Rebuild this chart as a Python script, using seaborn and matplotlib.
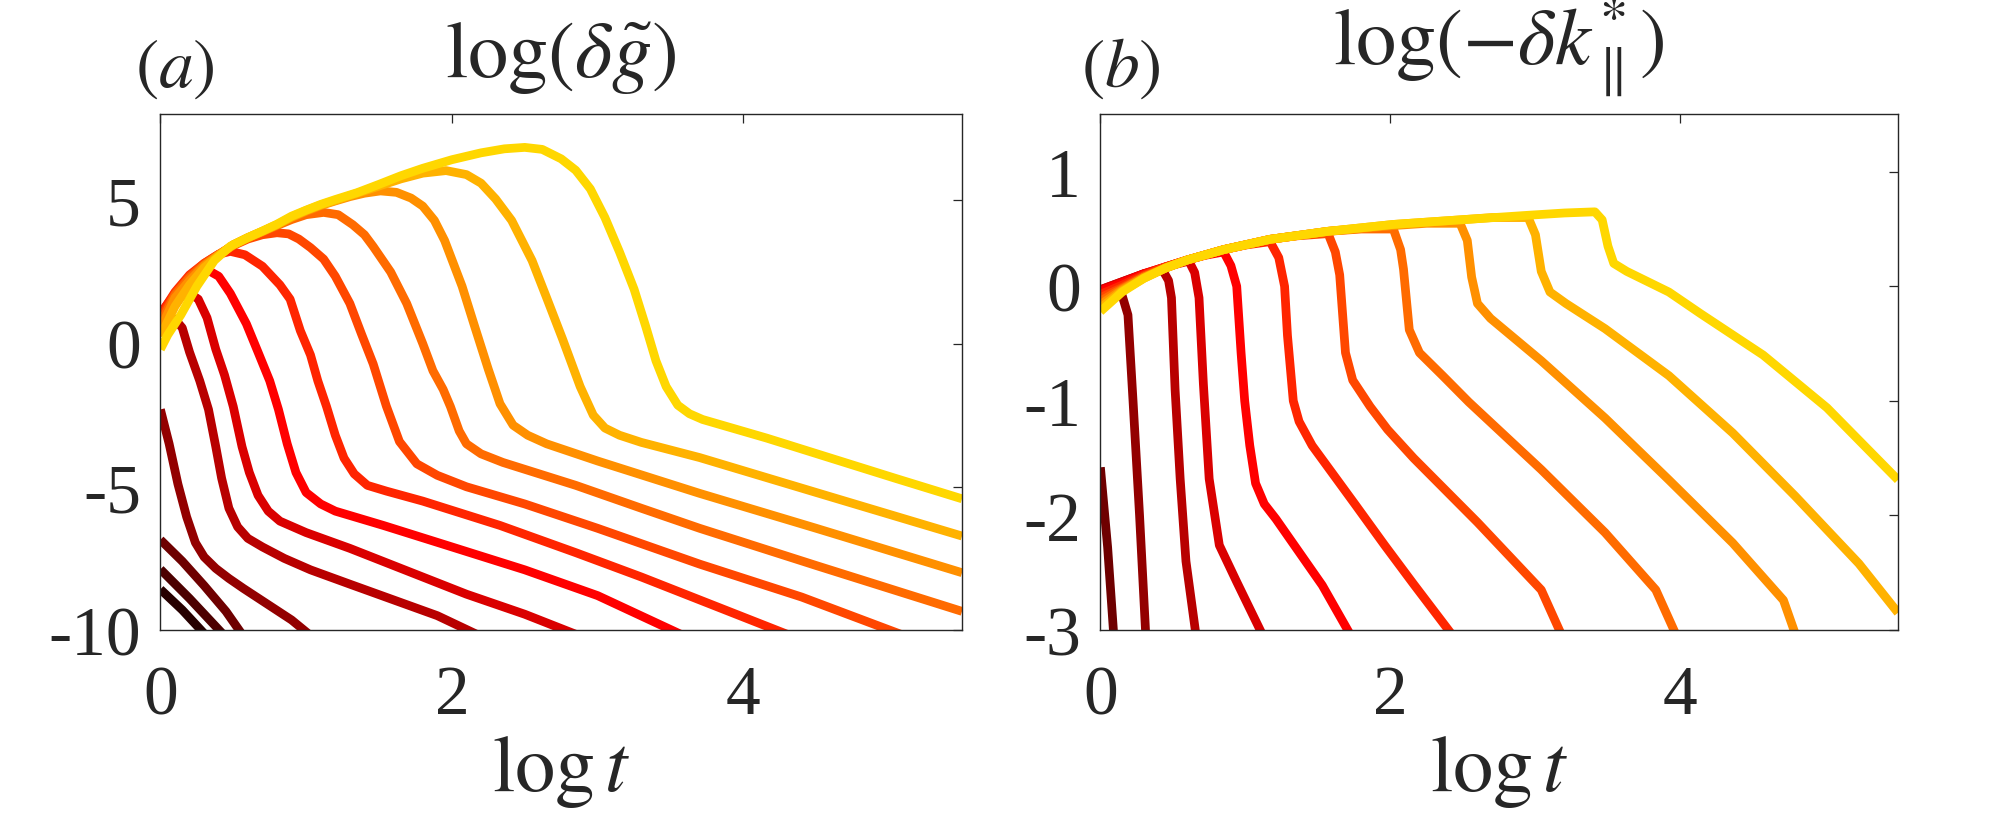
import numpy as np
import pandas as pd
import seaborn as sns
import matplotlib.pyplot as plt

# panel (a): log(delta g~) against log t, one list of (log t, value) per curve
dg_1 = [(0.0, -8.58), (0.15, -9.3), (0.305, -10.15)]
dg_2 = [(0.0, -7.88), (0.2, -8.9), (0.43, -10.15)]
dg_3 = [(0.0, -6.85), (0.15, -7.6), (0.3, -8.45), (0.45, -9.35), (0.56, -10.15)]
dg_4 = [(0.0, -2.3), (0.06, -3.5), (0.12, -4.9), (0.18, -6.05), (0.24, -6.95), (0.3, -7.45),
        (0.38, -7.85), (0.47, -8.2), (0.57, -8.55), (0.75, -9.15), (0.9, -9.65), (1.02, -10.15)]
dg_5 = [(0.0, 0.45), (0.05, 0.75), (0.1, 0.85), (0.15, 0.55), (0.2, -0.3), (0.27, -1.3),
        (0.33, -2.3), (0.38, -3.6), (0.42, -4.7), (0.47, -5.75), (0.53, -6.4), (0.6, -6.8),
        (0.7, -7.1), (0.85, -7.5), (1.03, -7.9), (1.3, -8.4), (1.6, -8.95), (1.9, -9.5),
        (2.17, -10.15)]
dg_6 = [(0.0, 0.75), (0.06, 1.3), (0.12, 1.62), (0.2, 1.76), (0.26, 1.55), (0.32, 0.9),
        (0.38, -0.2), (0.44, -1.1), (0.5, -2.2), (0.56, -3.6), (0.61, -4.5), (0.67, -5.3),
        (0.74, -5.85), (0.82, -6.2), (1.0, -6.6), (1.3, -7.15), (1.7, -7.95), (2.1, -8.75),
        (2.5, -9.45), (2.85, -10.15)]
dg_7 = [(0.0, 1.05), (0.08, 1.6), (0.16, 2.1), (0.25, 2.45), (0.32, 2.58), (0.4, 2.35),
        (0.48, 1.75), (0.59, 0.69), (0.67, -0.3), (0.75, -1.3), (0.81, -2.3), (0.87, -3.5),
        (0.93, -4.5), (1.0, -5.2), (1.1, -5.6), (1.2, -5.85), (1.53, -6.35), (2.0, -7.1),
        (2.5, -7.9), (3.0, -8.8), (3.57, -10.15)]
dg_8 = [(0.0, 1.0), (0.1, 1.8), (0.2, 2.4), (0.3, 2.8), (0.4, 3.12), (0.48, 3.22), (0.58, 3.1),
        (0.7, 2.7), (0.82, 2.05), (0.89, 1.55), (0.96, 0.45), (1.03, -0.4), (1.08, -1.3),
        (1.14, -2.2), (1.2, -3.2), (1.26, -4.0), (1.33, -4.55), (1.42, -4.95), (1.55, -5.15),
        (1.8, -5.5), (2.33, -6.35), (2.85, -7.3), (3.3, -8.15), (3.7, -8.95), (4.3, -10.15)]
dg_9 = [(0.0, 0.85), (0.1, 1.75), (0.2, 2.35), (0.3, 2.8), (0.4, 3.12), (0.5, 3.42), (0.6, 3.65),
        (0.7, 3.8), (0.8, 3.87), (0.88, 3.83), (0.95, 3.65), (1.03, 3.35), (1.12, 2.95),
        (1.2, 2.35), (1.3, 1.4), (1.38, 0.33), (1.46, -0.71), (1.55, -2.18), (1.64, -3.42),
        (1.76, -4.2), (1.9, -4.6), (2.1, -5.0), (2.5, -5.6), (3.0, -6.45), (3.7, -7.7),
        (4.4, -8.85), (5.08, -10.15)]
dg_10 = [(0.0, 0.7), (0.1, 1.7), (0.2, 2.3), (0.3, 2.75), (0.4, 3.1), (0.5, 3.44), (0.6, 3.68),
         (0.7, 3.9), (0.8, 4.12), (0.9, 4.33), (1.0, 4.5), (1.12, 4.58), (1.22, 4.5),
         (1.32, 4.15), (1.4, 3.8), (1.46, 3.39), (1.58, 2.5), (1.69, 1.4), (1.8, 0.0),
         (1.87, -0.95), (1.94, -1.6), (1.99, -2.2), (2.05, -3.05), (2.1, -3.5), (2.2, -3.85),
         (2.35, -4.15), (2.85, -4.95), (3.3, -5.75), (3.7, -6.45), (4.5, -7.75), (5.5, -9.35)]
dg_11 = [(0.0, 0.5), (0.1, 1.6), (0.2, 2.2), (0.3, 2.72), (0.4, 3.1), (0.5, 3.45), (0.6, 3.7),
         (0.7, 3.92), (0.8, 4.15), (0.9, 4.4), (1.0, 4.62), (1.1, 4.82), (1.2, 4.98),
         (1.3, 5.13), (1.4, 5.25), (1.51, 5.33), (1.62, 5.28), (1.72, 5.08), (1.8, 4.8),
         (1.88, 4.3), (1.95, 3.6), (2.07, 2.0), (2.15, 0.7), (2.25, -0.9), (2.33, -2.1),
         (2.42, -2.85), (2.52, -3.2), (2.65, -3.5), (3.0, -4.1), (3.7, -5.23), (4.5, -6.45),
         (5.5, -8.0)]
dg_12 = [(0.0, 0.25), (0.1, 1.3), (0.2, 2.05), (0.3, 2.65), (0.4, 3.08), (0.5, 3.45), (0.6, 3.7),
         (0.7, 3.92), (0.8, 4.15), (0.9, 4.42), (1.0, 4.65), (1.1, 4.84), (1.2, 5.0),
         (1.35, 5.25), (1.5, 5.5), (1.65, 5.75), (1.8, 5.95), (1.96, 6.04), (2.1, 5.9),
         (2.2, 5.6), (2.3, 5.05), (2.41, 4.3), (2.55, 2.9), (2.65, 1.6), (2.76, 0.15),
         (2.88, -1.5), (2.97, -2.5), (3.05, -2.95), (3.15, -3.2), (3.3, -3.45), (3.7, -3.98),
         (4.5, -5.2), (5.5, -6.72)]
dg_13 = [(0.0, -0.2), (0.05, 0.3), (0.14, 1.0), (0.25, 2.0), (0.37, 2.9), (0.48, 3.4), (0.6, 3.7),
         (0.7, 3.93), (0.8, 4.17), (0.9, 4.45), (1.0, 4.66), (1.1, 4.86), (1.2, 5.03),
         (1.35, 5.27), (1.5, 5.56), (1.65, 5.86), (1.8, 6.12), (2.0, 6.42), (2.2, 6.66),
         (2.36, 6.8), (2.5, 6.85), (2.62, 6.78), (2.75, 6.45), (2.85, 6.05), (2.95, 5.4),
         (3.05, 4.4), (3.15, 3.2), (3.25, 1.9), (3.33, 0.6), (3.4, -0.6), (3.47, -1.5),
         (3.55, -2.15), (3.63, -2.45), (3.72, -2.65), (4.16, -3.3), (4.6, -4.0), (5.04, -4.7),
         (5.5, -5.42)]

# panel (b): log(-delta k*_par) against log t (curves 1 and 2 stay below the axis)
dk_3 = [(0.0, -1.58), (0.05, -2.28), (0.095, -3.1)]
dk_4 = [(0.0, -0.05), (0.08, -0.05), (0.15, -0.08), (0.19, -0.25), (0.225, -1.0), (0.27, -2.0),
        (0.315, -3.1)]
dk_5 = [(0.0, -0.03), (0.15, 0.04), (0.3, 0.11), (0.43, 0.14), (0.47, 0.05), (0.49, -0.1),
        (0.515, -0.9), (0.55, -1.68), (0.59, -2.4), (0.665, -3.1)]
dk_6 = [(0.0, -0.03), (0.15, 0.04), (0.3, 0.11), (0.45, 0.17), (0.61, 0.22), (0.65, 0.12),
        (0.68, -0.1), (0.71, -0.85), (0.75, -1.68), (0.82, -2.26), (0.94, -2.58), (1.14, -3.1)]
dk_7 = [(0.0, -0.04), (0.15, 0.03), (0.3, 0.11), (0.45, 0.17), (0.6, 0.23), (0.72, 0.27),
        (0.85, 0.3), (0.9, 0.18), (0.94, 0.0), (0.97, -0.58), (0.995, -1.0), (1.03, -1.39),
        (1.07, -1.72), (1.13, -1.9), (1.21, -2.03), (1.53, -2.61), (1.75, -3.1)]
dk_8 = [(0.0, -0.07), (0.15, 0.01), (0.3, 0.1), (0.45, 0.17), (0.6, 0.23), (0.85, 0.32),
        (1.0, 0.36), (1.17, 0.39), (1.23, 0.25), (1.27, 0.0), (1.29, -0.43), (1.33, -1.0),
        (1.37, -1.18), (1.46, -1.39), (1.76, -1.91), (1.96, -2.26), (2.16, -2.6), (2.46, -3.1)]
dk_9 = [(0.0, -0.1), (0.15, -0.01), (0.3, 0.09), (0.45, 0.17), (0.6, 0.23), (0.85, 0.32),
        (1.17, 0.41), (1.35, 0.44), (1.57, 0.46), (1.62, 0.3), (1.65, 0.1), (1.69, -0.58),
        (1.74, -0.82), (1.86, -1.05), (1.98, -1.25), (2.16, -1.5), (2.6, -2.06), (3.04, -2.65),
        (3.2, -3.1)]
dk_10 = [(0.0, -0.13), (0.15, -0.02), (0.3, 0.08), (0.45, 0.16), (0.6, 0.23), (0.85, 0.32),
         (1.17, 0.41), (1.57, 0.48), (1.8, 0.5), (2.02, 0.5), (2.07, 0.32), (2.09, 0.15),
         (2.13, -0.38), (2.2, -0.58), (2.36, -0.78), (2.54, -1.01), (3.04, -1.6), (3.48, -2.15),
         (3.83, -2.65), (3.99, -3.1)]
dk_11 = [(0.0, -0.16), (0.15, -0.03), (0.3, 0.08), (0.45, 0.16), (0.6, 0.23), (0.85, 0.32),
         (1.17, 0.41), (1.57, 0.48), (2.02, 0.53), (2.25, 0.55), (2.48, 0.55), (2.53, 0.4),
         (2.56, 0.08), (2.6, -0.15), (2.69, -0.28), (3.04, -0.65), (3.48, -1.15), (3.92, -1.69),
         (4.36, -2.24), (4.71, -2.74), (4.81, -3.1)]
dk_12 = [(0.0, -0.19), (0.15, -0.04), (0.3, 0.07), (0.45, 0.16), (0.6, 0.23), (0.85, 0.32),
         (1.17, 0.41), (1.57, 0.48), (2.02, 0.54), (2.48, 0.58), (2.7, 0.6), (2.95, 0.6),
         (3.0, 0.45), (3.04, 0.13), (3.1, -0.05), (3.21, -0.15), (3.48, -0.37), (3.92, -0.78),
         (4.36, -1.28), (4.79, -1.83), (5.23, -2.42), (5.5, -2.85)]
dk_13 = [(0.0, -0.22), (0.15, -0.05), (0.3, 0.07), (0.45, 0.16), (0.6, 0.23), (0.85, 0.32),
         (1.17, 0.41), (1.57, 0.48), (2.02, 0.54), (2.48, 0.58), (2.95, 0.62), (3.2, 0.64),
         (3.41, 0.65), (3.46, 0.58), (3.5, 0.35), (3.54, 0.2), (3.63, 0.13), (3.92, -0.05),
         (4.14, -0.24), (4.57, -0.6), (5.01, -1.06), (5.5, -1.69)]

dg_curves = [dg_1, dg_2, dg_3, dg_4, dg_5, dg_6, dg_7, dg_8, dg_9, dg_10, dg_11, dg_12, dg_13]
dk_curves = [dk_3, dk_4, dk_5, dk_6, dk_7, dk_8, dk_9, dk_10, dk_11, dk_12, dk_13]


def to_frame(curves, first):
    rows = []
    for i, pts in enumerate(curves):
        for order, (x, y) in enumerate(pts):
            rows.append({'curve': first + i, 'order': order, 'logt': x, 'val': y})
    return pd.DataFrame(rows)


sns.set_theme(style='white')
plt.rcParams['font.family'] = ['Liberation Serif', 'DejaVu Serif']
plt.rcParams['mathtext.fontset'] = 'stix'
plt.rcParams['axes.unicode_minus'] = False

# black-red-yellow ramp, darkest = curve 1
palette = {k + 1: plt.cm.hot(v) for k, v in enumerate(np.linspace(0.045, 0.685, 13))}

fig = plt.figure(figsize=(20, 8.2), dpi=100)
ax_a = fig.add_axes([0.0802, 0.2305, 0.4008, 0.6287])
ax_b = fig.add_axes([0.5502, 0.2305, 0.3988, 0.6287])

panels = [
    (ax_a, to_frame(dg_curves, 1), (-10, 8), [-10, -5, 0, 5],
     r'$\log(\delta\tilde{g})$', 1.075, r'$(a)$', -0.032),
    (ax_b, to_frame(dk_curves, 3), (-3, 1.5), [-3, -2, -1, 0, 1],
     r'$\log(-\delta k^{*}_{\parallel})$', 1.098, r'$(b)$', -0.024),
]

for ax, df, ylim, yticks, title, title_y, tag, tag_x in panels:
    sns.lineplot(data=df, x='logt', y='val', hue='curve', units='curve', estimator=None,
                 sort=False, palette=palette, linewidth=6.3, legend=False, ax=ax,
                 solid_joinstyle='round', solid_capstyle='butt')
    ax.set_xlim(0, 5.5)
    ax.set_ylim(*ylim)
    ax.set_xticks([0, 2, 4])
    ax.set_yticks(yticks)
    ax.tick_params(direction='in', length=6.5, width=0.9, top=True, right=True,
                   colors='#262626', labelsize=50)
    ax.tick_params(axis='x', pad=25)
    ax.tick_params(axis='y', pad=14)
    for sp in ax.spines.values():
        sp.set_color('#262626')
        sp.set_linewidth(1.0)
    ax.set_ylabel('')
    ax.set_xlabel(r'$\log t$', fontsize=58, va='baseline')
    ax.xaxis.set_label_coords(0.5, -0.31)
    ax.set_title(title, fontsize=58, y=title_y, pad=0, va='baseline')
    ax.text(tag_x, 1.055, tag, transform=ax.transAxes, fontsize=50,
            ha='left', va='baseline')

fig.savefig('out.png', dpi=100)
plt.close(fig)
